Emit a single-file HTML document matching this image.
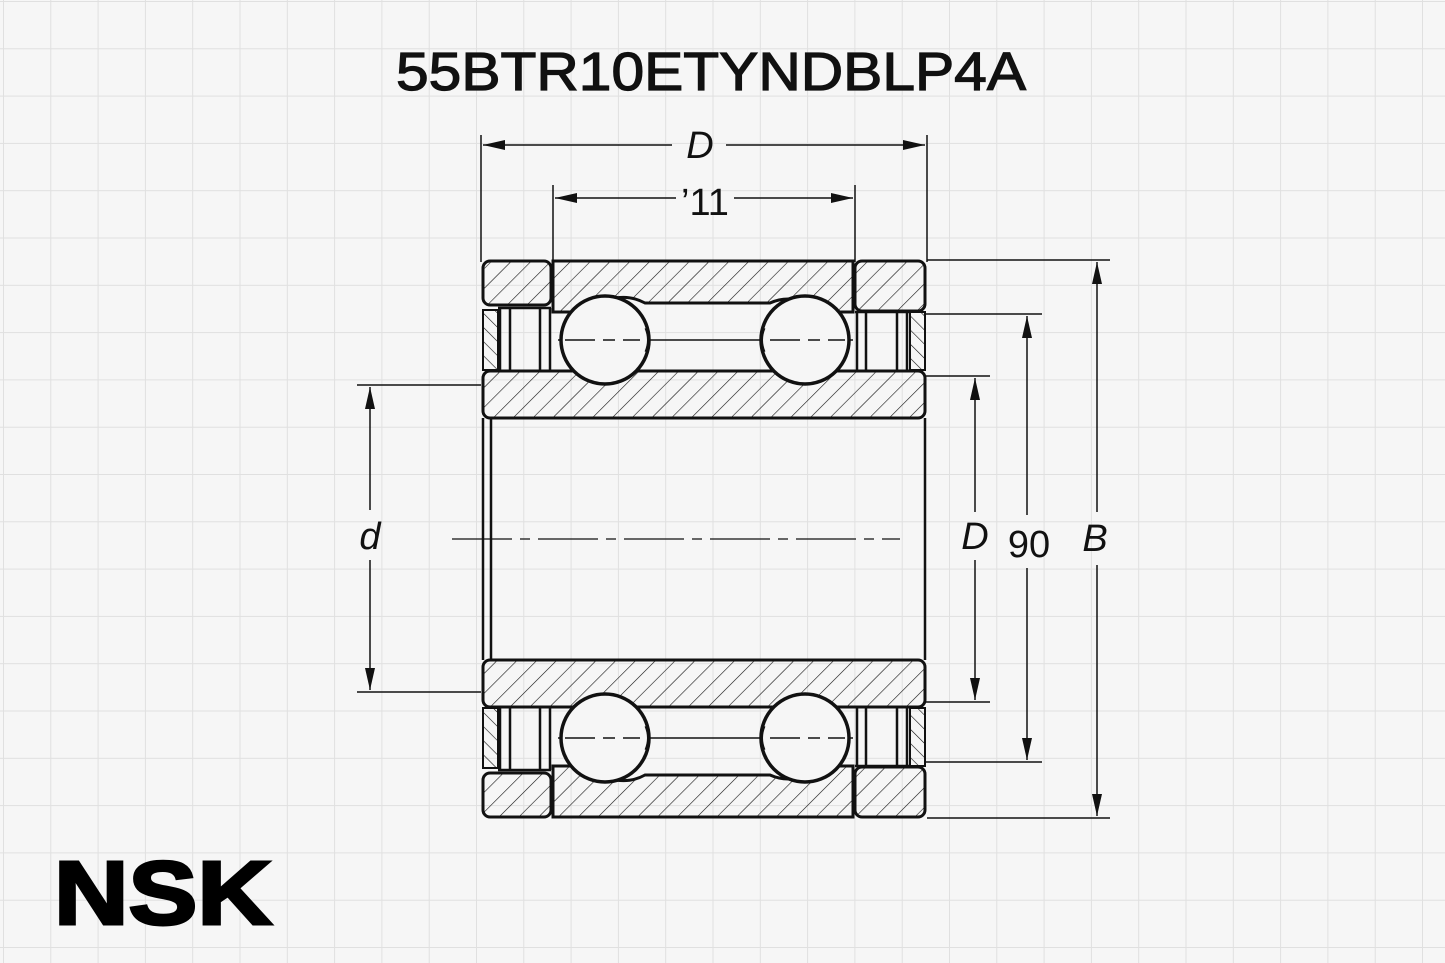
<!DOCTYPE html>
<html><head><meta charset="utf-8"><style>
html,body{margin:0;padding:0;background:#f6f6f6;}
svg{display:block}
</style></head><body>
<svg width="1445" height="963" viewBox="0 0 1445 963" xmlns="http://www.w3.org/2000/svg">
<defs>
<pattern id="grid" width="47.3" height="47.3" patternUnits="userSpaceOnUse" x="3" y="1">
<path d="M0 0H47.3M0 0V47.3" stroke="#e0e0e0" stroke-width="2" fill="none"/>
</pattern>
<pattern id="h" width="14" height="14" patternUnits="userSpaceOnUse" patternTransform="rotate(45)">
<line x1="0" y1="0" x2="0" y2="14" stroke="#111" stroke-width="1.2"/>
</pattern>
<pattern id="hb" width="14" height="14" patternUnits="userSpaceOnUse" patternTransform="rotate(-45)">
<line x1="0" y1="0" x2="0" y2="14" stroke="#111" stroke-width="1.2"/>
</pattern>
<pattern id="h2" width="10" height="10" patternUnits="userSpaceOnUse" patternTransform="rotate(-45)">
<line x1="0" y1="0" x2="0" y2="10" stroke="#111" stroke-width="1.2"/>
</pattern>
<pattern id="h2b" width="10" height="10" patternUnits="userSpaceOnUse" patternTransform="rotate(45)">
<line x1="0" y1="0" x2="0" y2="10" stroke="#111" stroke-width="1.2"/>
</pattern>
<marker id="a" markerWidth="22" markerHeight="10" refX="22" refY="5" orient="auto" markerUnits="userSpaceOnUse">
<path d="M0,0 L22,5 L0,10 Z" fill="#111"/></marker>
</defs>
<rect width="1445" height="963" fill="#f6f6f6"/>
<rect width="1445" height="963" fill="url(#grid)"/>

<text x="396" y="90" font-family="Liberation Sans, sans-serif" font-size="54" fill="#111" stroke="#111" stroke-width="1.2" textLength="630" lengthAdjust="spacingAndGlyphs">55BTR10ETYNDBLP4A</text>

<g id="top">
<rect x="483" y="261" width="68" height="44" rx="7" fill="url(#h)" stroke="#111" stroke-width="3"/>
<path d="M553 261 H853 V312 H820 A45 45 0 0 0 770 303 H645 A45 45 0 0 0 590 312 H553 Z" fill="url(#h)" stroke="#111" stroke-width="3"/>
<rect x="855" y="261" width="70" height="50" rx="7" fill="url(#h)" stroke="#111" stroke-width="3"/>
<rect x="483" y="310" width="15" height="60" fill="url(#h2)" stroke="#111" stroke-width="2"/>
<rect x="910" y="312" width="15" height="58" fill="url(#h2)" stroke="#111" stroke-width="2"/>
<path d="M498 308 H551 M500 308 V370 M510 308 V370 M540 308 V370 M550 308 V370 M855 312 H910 M857 312 V370 M866 312 V370 M897 312 V370 M907 312 V370" stroke="#111" stroke-width="2.5" fill="none"/>
<rect x="483" y="371" width="442" height="47" rx="7" fill="url(#h)" stroke="#111" stroke-width="3"/>
<path d="M558 340 H853" stroke="#111" stroke-width="1.5"/>
<circle cx="605" cy="340" r="44" fill="#f6f6f6" stroke="#111" stroke-width="3.5"/>
<circle cx="805" cy="340" r="44" fill="#f6f6f6" stroke="#111" stroke-width="3.5"/>
<path d="M565 340 H640 M770 340 H845" stroke="#111" stroke-width="1.5" stroke-dasharray="30 8 12 8"/>
<path d="M646 328 q5 12 0 24 M764 328 q-5 12 0 24" stroke="#111" stroke-width="3" fill="none"/>
</g>
<g transform="translate(0,1078) scale(1,-1)">
<rect x="483" y="261" width="68" height="44" rx="7" fill="url(#hb)" stroke="#111" stroke-width="3"/>
<path d="M553 261 H853 V312 H820 A45 45 0 0 0 770 303 H645 A45 45 0 0 0 590 312 H553 Z" fill="url(#hb)" stroke="#111" stroke-width="3"/>
<rect x="855" y="261" width="70" height="50" rx="7" fill="url(#hb)" stroke="#111" stroke-width="3"/>
<rect x="483" y="310" width="15" height="60" fill="url(#h2b)" stroke="#111" stroke-width="2"/>
<rect x="910" y="312" width="15" height="58" fill="url(#h2b)" stroke="#111" stroke-width="2"/>
<path d="M498 308 H551 M500 308 V370 M510 308 V370 M540 308 V370 M550 308 V370 M855 312 H910 M857 312 V370 M866 312 V370 M897 312 V370 M907 312 V370" stroke="#111" stroke-width="2.5" fill="none"/>
<rect x="483" y="371" width="442" height="47" rx="7" fill="url(#hb)" stroke="#111" stroke-width="3"/>
<path d="M558 340 H853" stroke="#111" stroke-width="1.5"/>
<circle cx="605" cy="340" r="44" fill="#f6f6f6" stroke="#111" stroke-width="3.5"/>
<circle cx="805" cy="340" r="44" fill="#f6f6f6" stroke="#111" stroke-width="3.5"/>
<path d="M565 340 H640 M770 340 H845" stroke="#111" stroke-width="1.5" stroke-dasharray="30 8 12 8"/>
<path d="M646 328 q5 12 0 24 M764 328 q-5 12 0 24" stroke="#111" stroke-width="3" fill="none"/>
</g>
<path d="M491 418 V660 M483 418 V660 M925 418 V660" stroke="#111" stroke-width="2.5"/>
<path d="M452 539 H900" stroke="#111" stroke-width="1.3" stroke-dasharray="60 8 10 8"/>

<g stroke="#111" stroke-width="1.5" fill="none">
<path d="M481 135 V262 M927 135 V262"/>
<path d="M672 145 H483" marker-end="url(#a)"/><path d="M726 145 H925" marker-end="url(#a)"/>
<path d="M553 185 V262 M855 185 V262"/>
<path d="M676 198 H555" marker-end="url(#a)"/><path d="M734 198 H853" marker-end="url(#a)"/>
<path d="M927 260 H1110 M927 818 H1110"/>
<path d="M1097 512 V262" marker-end="url(#a)"/><path d="M1097 565 V816" marker-end="url(#a)"/>
<path d="M925 314 H1042 M925 762 H1042"/>
<path d="M1027 515 V316" marker-end="url(#a)"/><path d="M1027 568 V760" marker-end="url(#a)"/>
<path d="M925 376 H990 M925 702 H990"/>
<path d="M975 512 V378" marker-end="url(#a)"/><path d="M975 560 V700" marker-end="url(#a)"/>
<path d="M357 385 H481 M357 692 H481"/>
<path d="M370 510 V387" marker-end="url(#a)"/><path d="M370 560 V690" marker-end="url(#a)"/>
</g>

<g font-family="Liberation Sans, sans-serif" font-size="38" fill="#111">
<text x="700" y="158" text-anchor="middle" font-style="italic">D</text>
<text x="705" y="215" text-anchor="middle">’11</text>
<text x="370" y="549" text-anchor="middle" font-style="italic">d</text>
<text x="975" y="549" text-anchor="middle" font-style="italic">D</text>
<text x="1029" y="557" text-anchor="middle">90</text>
<text x="1095" y="551" text-anchor="middle" font-style="italic">B</text>
</g>

<text x="54" y="924" font-family="Liberation Sans, sans-serif" font-size="90" font-weight="bold" fill="#000" textLength="218" lengthAdjust="spacingAndGlyphs" stroke="#000" stroke-width="3">NSK</text>
</svg>
</body></html>
